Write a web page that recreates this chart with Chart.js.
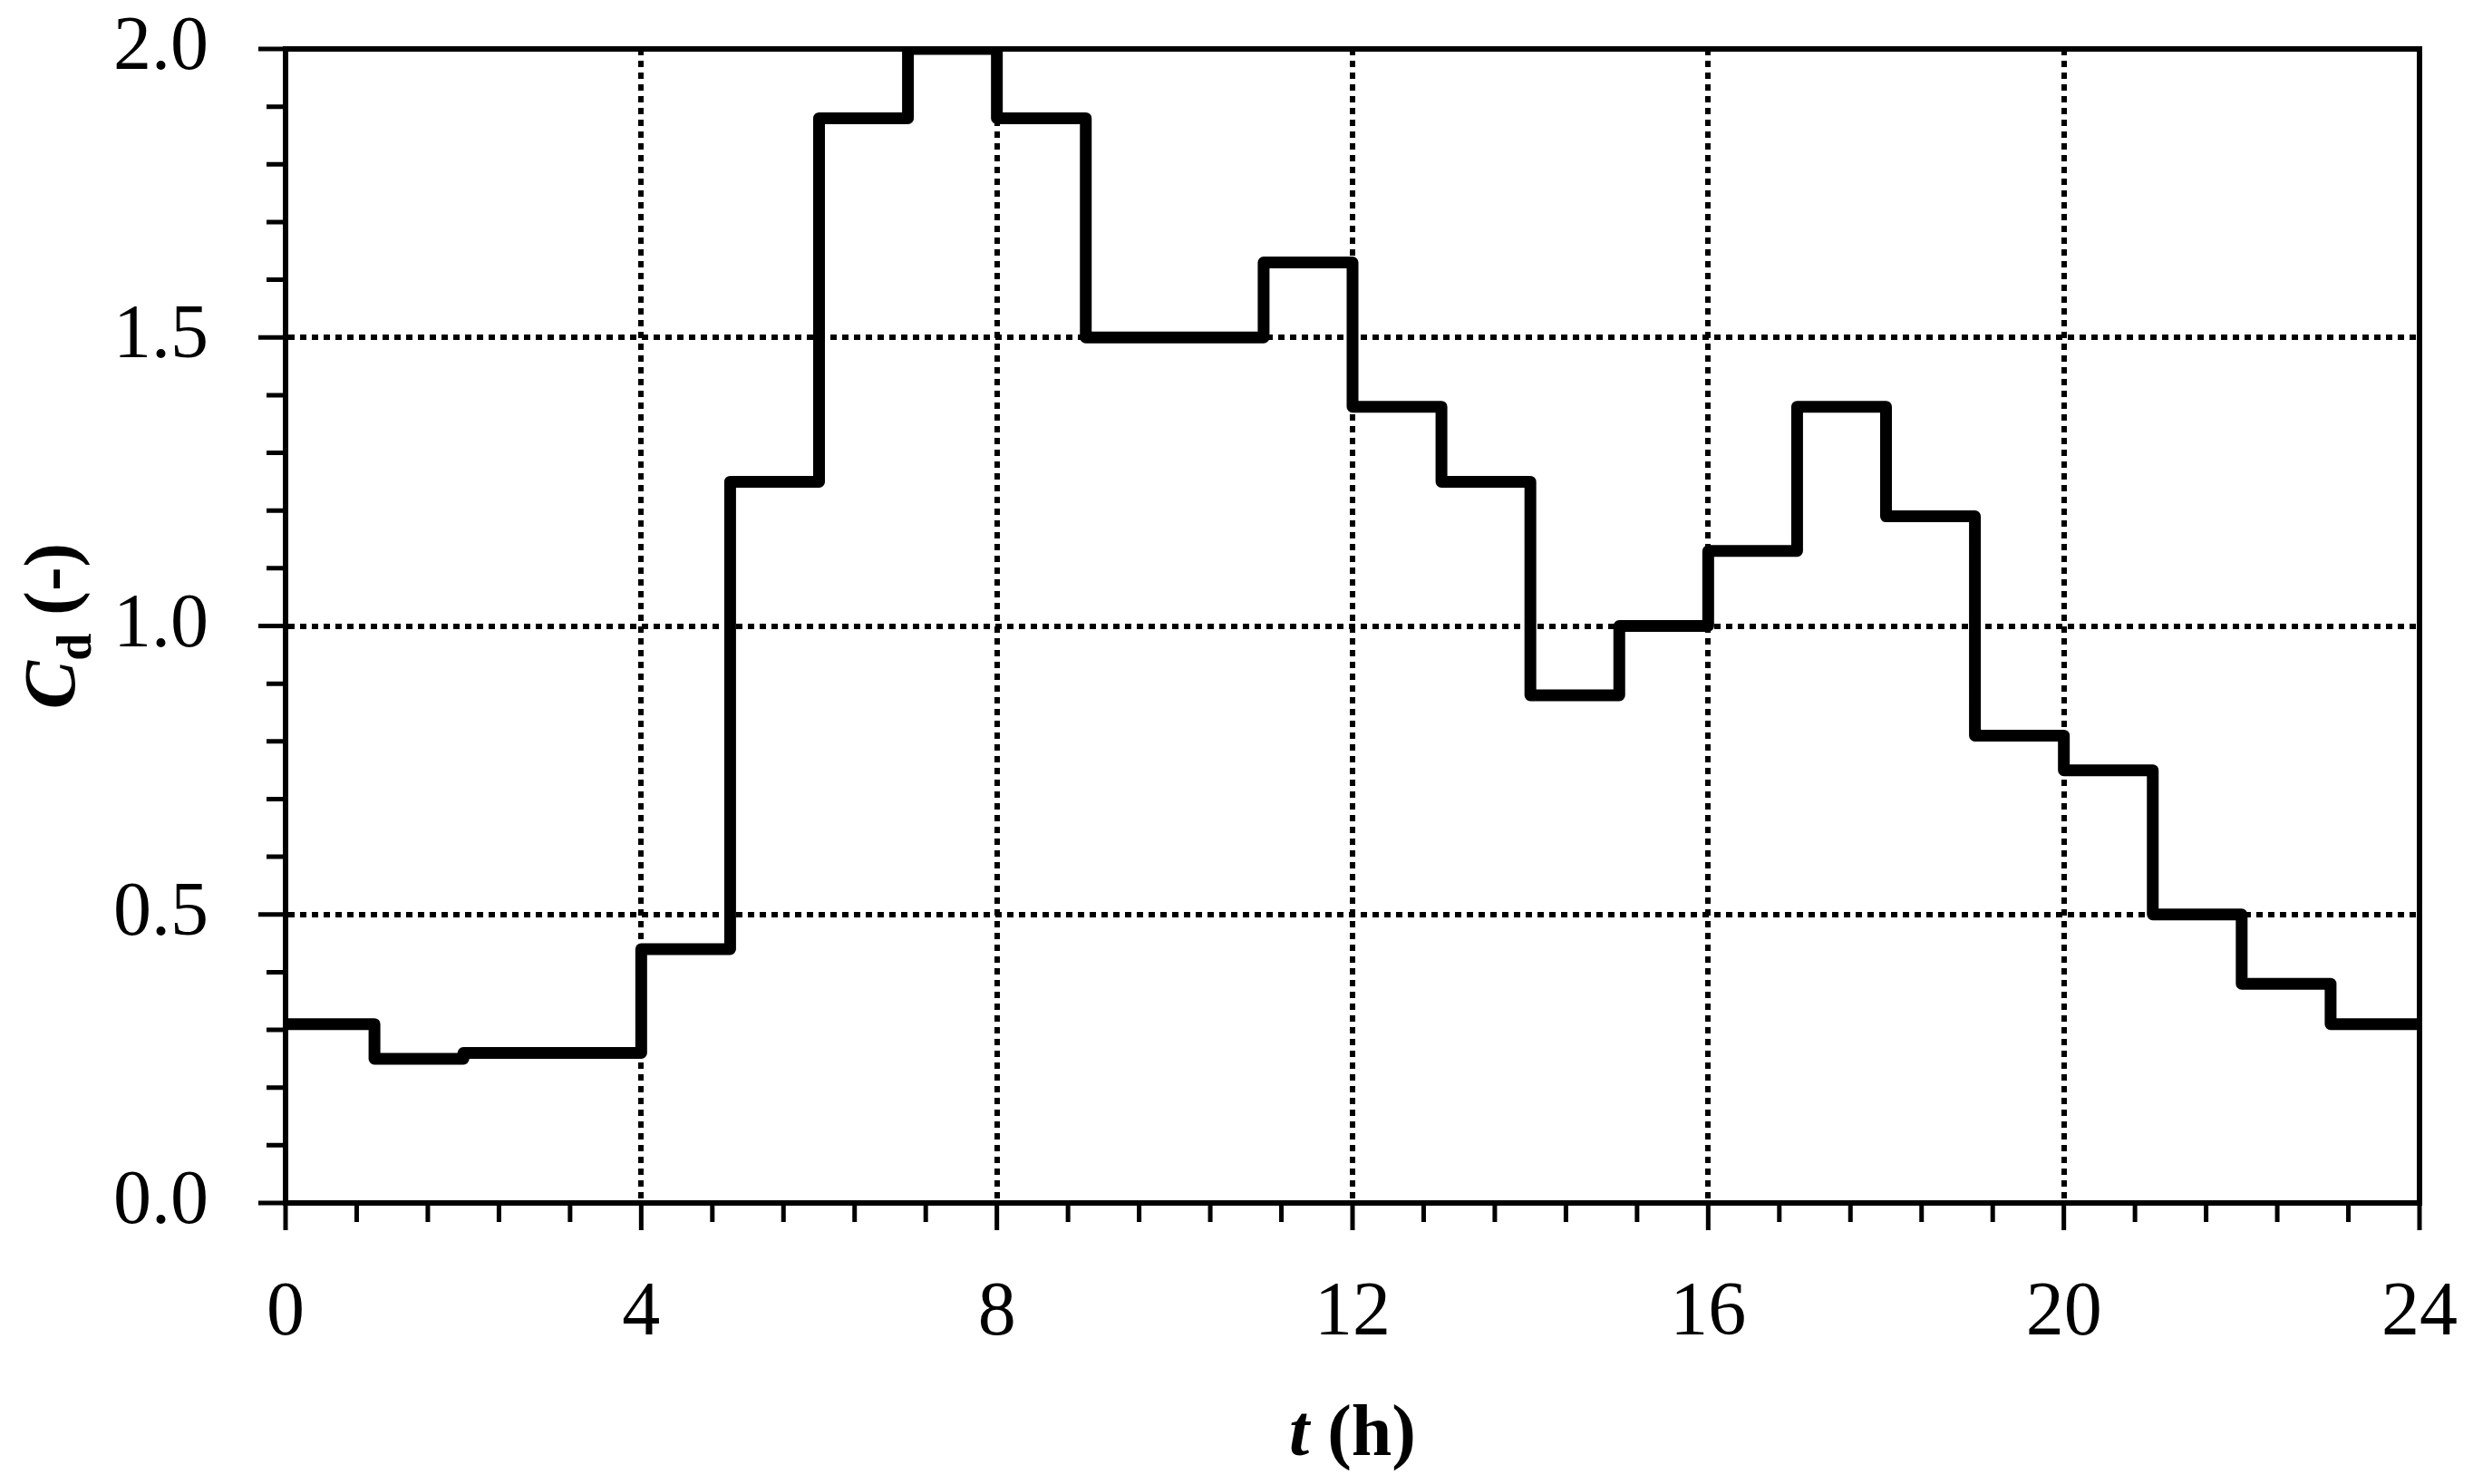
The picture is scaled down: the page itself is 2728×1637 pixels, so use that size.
<!DOCTYPE html>
<html>
<head>
<meta charset="utf-8">
<script src="https://cdn.jsdelivr.net/npm/chart.js@4.4.0/dist/chart.umd.min.js"></script>
<style>
  html, body { margin: 0; padding: 0; background: #fff; }
  #wrap { width: 2728px; height: 1637px; position: relative; }
</style>
</head>
<body>
<div id="wrap"><canvas id="myChart"></canvas></div>
<script>
// hourly demand coefficient, each value holds from t to t+1 (last point closes the step at 24 h)
const hours = [0, 1, 2, 3, 4, 5, 6, 7, 8, 9, 10, 11, 12, 13, 14, 15, 16, 17, 18, 19, 20, 21, 22, 23, 24];
const cd = [0.31, 0.25, 0.26, 0.26, 0.44, 1.25, 1.88, 2.0, 1.88, 1.5, 1.5, 1.63, 1.38, 1.25, 0.88, 1.0, 1.13, 1.38, 1.19, 0.81, 0.75, 0.5, 0.38, 0.31, 0.31];

const xTicks = [0, 4, 8, 12, 16, 20, 24];
const yTicks = [0.0, 0.5, 1.0, 1.5, 2.0];
const xMinorStep = 0.8;
const yMinorStep = 0.1;

const FONT = '"Liberation Serif", "Times New Roman", serif';

// frame on top/right plus the outward tick marks
const frameAndTicks = {
  id: 'frameAndTicks',
  afterDraw(chart) {
    const { ctx, chartArea: a, scales: { x, y } } = chart;
    ctx.save();
    ctx.strokeStyle = '#000';
    ctx.lineWidth = 6;
    ctx.lineCap = 'square';
    ctx.beginPath();
    ctx.moveTo(a.left, a.top);
    ctx.lineTo(a.right, a.top);
    ctx.lineTo(a.right, a.bottom);
    ctx.stroke();

    ctx.lineCap = 'butt';
    ctx.lineWidth = 5;
    ctx.beginPath();
    for (let v = 0; v <= 24.001; v += xMinorStep) {
      const px = x.getPixelForValue(v);
      const major = xTicks.some(t => Math.abs(t - v) < 0.01);
      ctx.moveTo(px, a.bottom);
      ctx.lineTo(px, a.bottom + (major ? 30 : 21));
    }
    for (let v = 0; v <= 2.0001; v += yMinorStep) {
      const py = y.getPixelForValue(v);
      const major = yTicks.some(t => Math.abs(t - v) < 0.01);
      ctx.moveTo(a.left, py);
      ctx.lineTo(a.left - (major ? 30 : 21), py);
    }
    ctx.stroke();
    ctx.restore();
  }
};

// axis titles with italic symbols and subscript
const axisTitles = {
  id: 'axisTitles',
  afterDraw(chart) {
    const { ctx, chartArea: a } = chart;
    ctx.save();
    ctx.fillStyle = '#000';
    ctx.textBaseline = 'alphabetic';

    // x title: t (h)
    const big = 80;
    const parts = [
      { t: 't', f: `italic bold ${big}px ${FONT}` },
      { t: ' (h)', f: `bold ${big}px ${FONT}` }
    ];
    let w = 0;
    parts.forEach(p => { ctx.font = p.f; p.w = ctx.measureText(p.t).width; w += p.w; });
    let cx = (a.left + a.right) / 2 - w / 2;
    const by = 1605;
    parts.forEach(p => { ctx.font = p.f; ctx.fillText(p.t, cx, by); cx += p.w; });

    // y title: Cd (-), rotated
    ctx.translate(82, (a.top + a.bottom) / 2);
    ctx.rotate(-Math.PI / 2);
    const yp = [
      { t: 'C', f: `italic bold ${big}px ${FONT}`, dy: 0 },
      { t: 'd', f: `bold ${Math.round(big * 0.68)}px ${FONT}`, dy: 18 },
      { t: ' (-)', f: `bold ${big}px ${FONT}`, dy: 0 }
    ];
    w = 0;
    yp.forEach(p => { ctx.font = p.f; p.w = ctx.measureText(p.t).width; w += p.w; });
    cx = -w / 2;
    yp.forEach(p => { ctx.font = p.f; ctx.fillText(p.t, cx, p.dy); cx += p.w; });
    ctx.restore();
  }
};

const ctx = document.getElementById('myChart').getContext('2d');

new Chart(ctx, {
  type: 'line',
  data: {
    datasets: [{
      label: 'Cd',
      data: hours.map((h, i) => ({ x: h, y: cd[i] })),
      stepped: 'before',
      borderColor: '#000',
      borderWidth: 13,
      borderJoinStyle: 'round',
      pointRadius: 0,
      fill: false
    }]
  },
  options: {
    responsive: true,
    maintainAspectRatio: false,
    animation: false,
    layout: { padding: { left: 0, top: 54, right: 59, bottom: 0 } },
    plugins: { legend: { display: false }, tooltip: { enabled: false } },
    scales: {
      x: {
        type: 'linear',
        min: 0,
        max: 24,
        afterBuildTicks: s => { s.ticks = xTicks.map(v => ({ value: v })); },
        afterFit: s => { s.height = 310; s.paddingLeft = 0; s.paddingRight = 0; },
        ticks: { color: '#000', font: { family: FONT, size: 84 }, padding: 73, maxRotation: 0 },
        grid: {
          drawTicks: false,
          lineWidth: 6,
          color: c => (c.tick && (c.tick.value === 0 || c.tick.value === 24)) ? 'rgba(0,0,0,0)' : '#000'
        },
        border: { display: true, color: '#000', width: 6, dash: [7, 6] }
      },
      y: {
        min: 0,
        max: 2,
        afterBuildTicks: s => { s.ticks = yTicks.map(v => ({ value: v })); },
        afterFit: s => { s.width = 315; s.paddingTop = 0; s.paddingBottom = 0; },
        ticks: { color: '#000', font: { family: FONT, size: 84 }, padding: 85, callback: v => v.toFixed(1) },
        grid: {
          drawTicks: false,
          lineWidth: 6,
          color: c => (c.tick && (c.tick.value === 0 || c.tick.value === 2)) ? 'rgba(0,0,0,0)' : '#000'
        },
        border: { display: true, color: '#000', width: 6, dash: [7, 6] }
      }
    }
  },
  plugins: [frameAndTicks, axisTitles]
});
</script>
</body>
</html>
